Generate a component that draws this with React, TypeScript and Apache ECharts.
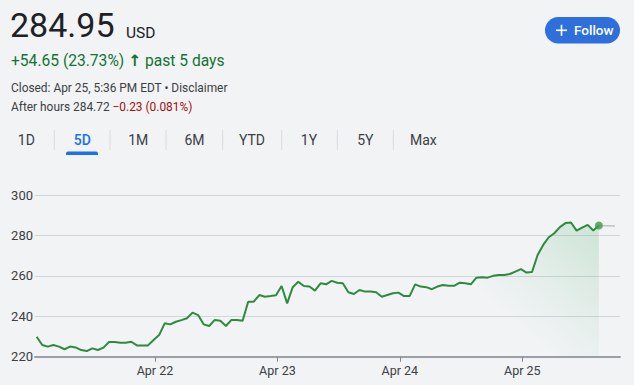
import React, { useEffect, useRef } from "react";
import * as echarts from "echarts";

// ---- data ----
const PRICES: number[] = [
  229.9, 225.8, 225.0, 225.8, 225.0, 223.7, 225.0, 224.6, 223.3, 222.8,
  224.1, 223.3, 224.5, 227.3, 227.3, 226.9, 226.9, 227.4, 225.6, 225.6,
  225.6, 228.3, 230.7, 236.5, 236.0, 237.3, 238.1, 239.0, 241.8, 240.6,
  236.0, 235.2, 238.2, 237.8, 235.2, 238.2, 238.2, 237.8, 247.2, 247.2,
  250.5, 249.7, 250.0, 250.4, 255.0, 246.4, 254.4, 257.1, 255.0, 254.7,
  252.7, 256.3, 255.8, 257.5, 256.6, 256.3, 251.9, 251.0, 253.0, 252.2,
  252.2, 251.9, 249.7, 250.5, 251.4, 251.7, 250.0, 250.0, 255.8, 254.7,
  254.4, 253.4, 254.7, 255.5, 255.1, 255.1, 256.6, 256.3, 255.8, 259.1,
  259.3, 259.1, 260.0, 260.4, 260.4, 260.9, 262.1, 263.3, 261.6, 261.9,
  270.3, 275.3, 279.1, 281.1, 284.1, 286.1, 286.4, 282.4, 283.9, 285.2,
  282.4, 284.95,
];
// after-hours segment: [index, price]
const AFTER_HOURS: [number, number][] = [
  [101, 284.95],
  [103.9, 284.72],
];
const DAY_TICKS: number[] = [21.25, 43.25, 65.25, 87.25];
const DAY_LABELS: string[] = ["Apr 22", "Apr 23", "Apr 24", "Apr 25"];
const Y_MIN = 220;
const Y_MAX = 300;
const Y_STEP = 20;
const TABS: string[] = ["1D", "5D", "1M", "6M", "YTD", "1Y", "5Y", "Max"];
const ACTIVE_TAB = "5D";
const AREA_START = 74;

const BG = "#f1f3f5";
const GREEN = "#2e8b3e";
const FONT = "Roboto, Arial, sans-serif";

export default function App() {
  const ref = useRef<HTMLDivElement>(null);
  useEffect(() => {
    document.body.style.margin = "0";
    const chart = echarts.init(ref.current!, undefined, { renderer: "svg" });

    const lineData = PRICES.map((v, i) => [i, v]);
    const areaData = PRICES.slice(AREA_START).map((v, k) => [k + AREA_START, v]);
    const last = lineData[lineData.length - 1];

    const tabCenters = [26.3, 82.3, 138.3, 194.5, 252, 309, 365.3, 423.3];
    const separators = [54.3, 110, 166, 222.7, 281.7, 337.3, 393.3];

    const graphics: any[] = [
      {
        type: "text",
        x: 10,
        y: 25,
        style: { text: "284.95", fill: "#202124", font: `400 34px ${FONT}`, verticalAlign: "middle", align: "left" },
      },
      {
        type: "text",
        x: 126,
        y: 32.5,
        style: { text: "USD", fill: "#202124", font: `400 15.5px ${FONT}`, verticalAlign: "middle", align: "left" },
      },
      {
        type: "text",
        x: 11,
        y: 60.5,
        style: {
          text: "+54.65 (23.73%) {a|↑} past 5 days",
          fill: "#137333",
          font: `400 15.6px ${FONT}`,
          verticalAlign: "middle",
          align: "left",
          rich: { a: { fill: "#137333", font: `700 15.6px "DejaVu Sans", ${FONT}` } },
        },
      },
      {
        type: "text",
        x: 11,
        y: 88,
        style: { text: "Closed: Apr 25, 5:36 PM EDT • Disclaimer", fill: "#3c4043", font: `400 11.9px ${FONT}`, verticalAlign: "middle", align: "left" },
      },
      {
        type: "text",
        x: 11,
        y: 106.5,
        style: {
          text: "After hours 284.72 {r|−0.23 (0.081%)}",
          fill: "#3c4043",
          font: `400 11.9px ${FONT}`,
          verticalAlign: "middle",
          align: "left",
          rich: { r: { fill: "#a50e0e", font: `400 11.9px ${FONT}` } },
        },
      },
      // follow button
      {
        type: "rect",
        shape: { x: 545, y: 17, width: 75, height: 26.5, r: 13.25 },
        style: { fill: "#2f6fdc" },
      },
      { type: "line", shape: { x1: 556, y1: 30.3, x2: 567, y2: 30.3 }, style: { stroke: "#ffffff", lineWidth: 1.6 } },
      { type: "line", shape: { x1: 561.5, y1: 24.8, x2: 561.5, y2: 35.8 }, style: { stroke: "#ffffff", lineWidth: 1.6 } },
      {
        type: "text",
        x: 574,
        y: 30.3,
        style: { text: "Follow", fill: "#ffffff", font: `500 13.5px ${FONT}`, verticalAlign: "middle", align: "left" },
      },
      // active tab underline
      {
        type: "rect",
        shape: { x: 66, y: 151.5, width: 32, height: 3.5, r: [2, 2, 0, 0] },
        style: { fill: "#1a73e8" },
      },
    ];
    TABS.forEach((t, i) => {
      graphics.push({
        type: "text",
        x: tabCenters[i],
        y: 139.5,
        style: {
          text: t,
          fill: t === ACTIVE_TAB ? "#1a73e8" : "#3c4043",
          font: `${t === ACTIVE_TAB ? 500 : 400} 14px ${FONT}`,
          verticalAlign: "middle",
          align: "center",
        },
      });
    });
    separators.forEach((sx) => {
      graphics.push({
        type: "line",
        shape: { x1: sx, y1: 130, x2: sx, y2: 150 },
        style: { stroke: "#dadce0", lineWidth: 1 },
      });
    });

    chart.setOption({
      animation: false,
      backgroundColor: BG,
      textStyle: { fontFamily: FONT },
      grid: { left: 35, right: 14, top: 195, bottom: 28.3, containLabel: false },
      xAxis: {
        type: "value",
        min: -0.3,
        max: 104.8,
        splitLine: { show: false },
        axisLine: { show: true, lineStyle: { color: "#9aa0a6", width: 2 } },
        axisTick: { show: true, length: 5, customValues: DAY_TICKS, lineStyle: { color: "#80868b", width: 1 } },
        axisLabel: {
          customValues: DAY_TICKS,
          color: "#3c4043",
          fontSize: 12.5,
          margin: 7,
          formatter: (v: number) => {
            let best = 0;
            DAY_TICKS.forEach((t, i) => {
              if (Math.abs(t - v) < Math.abs(DAY_TICKS[best] - v)) best = i;
            });
            return DAY_LABELS[best];
          },
        },
      },
      yAxis: {
        type: "value",
        min: Y_MIN,
        max: Y_MAX,
        interval: Y_STEP,
        axisLine: { show: false },
        axisTick: { show: false },
        axisLabel: { color: "#3c4043", fontSize: 13, margin: 2 },
        splitLine: { lineStyle: { color: "#d2d5d9", width: 1 } },
      },
      series: [
        {
          type: "line",
          data: areaData,
          showSymbol: false,
          lineStyle: { width: 0 },
          silent: true,
          z: 1,
          areaStyle: {
            origin: "start",
            color: {
              type: "linear",
              x: 1,
              y: 0,
              x2: 0,
              y2: 1,
              colorStops: [
                { offset: 0, color: "rgba(52,168,83,0.28)" },
                { offset: 0.4, color: "rgba(52,168,83,0.09)" },
                { offset: 0.65, color: "rgba(52,168,83,0)" },
              ],
            },
          },
        },
        {
          type: "line",
          data: AFTER_HOURS,
          showSymbol: false,
          lineStyle: { color: "#bdc1c6", width: 1.5 },
          z: 2,
        },
        {
          type: "line",
          data: lineData,
          showSymbol: false,
          lineStyle: { color: GREEN, width: 2 },
          z: 3,
        },
        {
          type: "scatter",
          data: [last],
          symbolSize: 8,
          itemStyle: { color: "#3d9a4b" },
          z: 4,
        },
      ],
      graphic: graphics,
    });
    return () => chart.dispose();
  }, []);
  return (
    <div
      ref={ref}
      style={{ position: "fixed", left: 0, top: 0, width: 634, height: 385, background: BG }}
    />
  );
}
